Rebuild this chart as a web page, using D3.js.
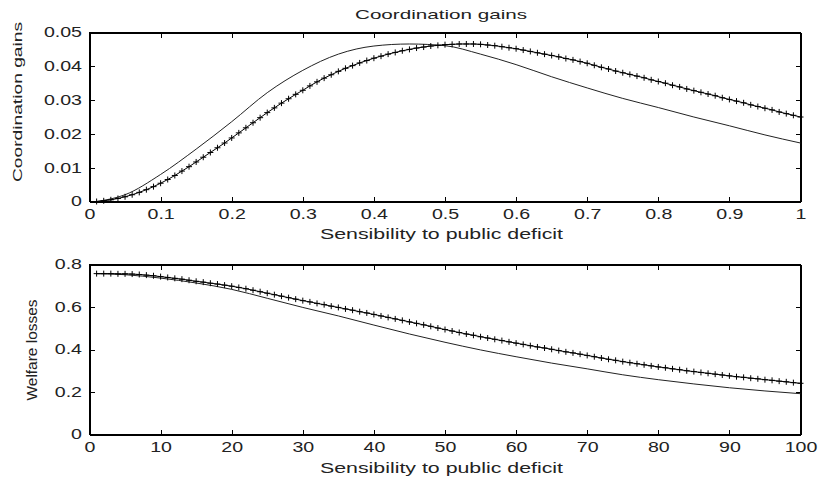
<!DOCTYPE html>
<html lang="en">
<head>
<meta charset="utf-8">
<title>Coordination gains</title>
<script src="https://cdn.jsdelivr.net/npm/d3@7/dist/d3.min.js"></script>
<style>
body { margin: 0; background: #fff; }
text { font-family: "Liberation Sans", Arial, sans-serif; fill: #222; }
.axis path, .axis line { stroke: #000; shape-rendering: crispEdges; }
</style>
</head>
<body>
<script>
// sampling grid of the "+" series (abscissa only)
var gainGrid = d3.range(1, 101).map(function(i) { return i / 100; });
var lossGrid = d3.range(1, 101);

// top panel, "+" series (one value per grid point)
var gainPlus = [
  0.0000, 0.0002, 0.0005, 0.0009, 0.0014, 0.0020, 0.0027, 0.0035, 0.0044, 0.0054,
  0.0065, 0.0077, 0.0090, 0.0103, 0.0117, 0.0131, 0.0145, 0.0159, 0.0173, 0.0188,
  0.0203, 0.0218, 0.0233, 0.0248, 0.0263, 0.0277, 0.0291, 0.0304, 0.0317, 0.0329,
  0.0342, 0.0354, 0.0365, 0.0375, 0.0385, 0.0394, 0.0402, 0.0410, 0.0417, 0.0424,
  0.0430, 0.0436, 0.0441, 0.0446, 0.0450, 0.0454, 0.0457, 0.0460, 0.0462, 0.0464,
  0.0465, 0.0466, 0.0466, 0.0466, 0.0465, 0.0463, 0.0461, 0.0458, 0.0455, 0.0452,
  0.0448, 0.0444, 0.0440, 0.0436, 0.0432, 0.0428, 0.0423, 0.0419, 0.0414, 0.0409,
  0.0403, 0.0397, 0.0392, 0.0386, 0.0381, 0.0376, 0.0371, 0.0366, 0.0360, 0.0355,
  0.0350, 0.0344, 0.0339, 0.0333, 0.0328, 0.0323, 0.0318, 0.0313, 0.0307, 0.0302,
  0.0297, 0.0292, 0.0286, 0.0281, 0.0276, 0.0271, 0.0265, 0.0260, 0.0255, 0.0250
];

// top panel, solid series (read at every 0.05)
var gainSolidX = [0.01, 0.05, 0.10, 0.15, 0.20, 0.25, 0.30, 0.35, 0.40, 0.45, 0.50,
                  0.55, 0.60, 0.65, 0.70, 0.75, 0.80, 0.85, 0.90, 0.95, 1.00];
var gainSolid = [0.0000, 0.0020, 0.0080, 0.0155, 0.0236, 0.0322, 0.0388, 0.0436, 0.0460, 0.0466, 0.0461,
                 0.0436, 0.0405, 0.0369, 0.0336, 0.0305, 0.0278, 0.0250, 0.0224, 0.0197, 0.0173];

// bottom panel, "+" series
var lossPlus = [
  0.757, 0.757, 0.757, 0.756, 0.756, 0.755, 0.753, 0.750, 0.747, 0.743,
  0.739, 0.735, 0.731, 0.726, 0.721, 0.717, 0.712, 0.708, 0.703, 0.698,
  0.692, 0.686, 0.679, 0.672, 0.665, 0.658, 0.651, 0.644, 0.637, 0.630,
  0.624, 0.617, 0.611, 0.604, 0.598, 0.591, 0.585, 0.578, 0.572, 0.565,
  0.558, 0.551, 0.544, 0.537, 0.530, 0.523, 0.516, 0.509, 0.501, 0.494,
  0.487, 0.480, 0.473, 0.467, 0.460, 0.454, 0.448, 0.442, 0.436, 0.430,
  0.424, 0.418, 0.412, 0.407, 0.401, 0.395, 0.389, 0.384, 0.378, 0.372,
  0.366, 0.360, 0.354, 0.349, 0.343, 0.338, 0.333, 0.328, 0.323, 0.318,
  0.314, 0.309, 0.305, 0.300, 0.296, 0.292, 0.288, 0.284, 0.280, 0.276,
  0.272, 0.269, 0.265, 0.262, 0.258, 0.255, 0.251, 0.248, 0.244, 0.241
];

// bottom panel, solid series
var lossSolidX = [1, 5, 10, 15, 20, 25, 30, 35, 40, 45, 50, 55, 60, 65, 70, 75, 80, 85, 90, 95, 100];
var lossSolid = [0.757, 0.752, 0.736, 0.713, 0.683, 0.641, 0.598, 0.558, 0.515, 0.473, 0.434,
                 0.398, 0.366, 0.336, 0.309, 0.281, 0.258, 0.238, 0.220, 0.205, 0.192];

var gainXTicks = [0, 0.1, 0.2, 0.3, 0.4, 0.5, 0.6, 0.7, 0.8, 0.9, 1];
var gainYTicks = [0, 0.01, 0.02, 0.03, 0.04, 0.05];
var lossXTicks = [0, 10, 20, 30, 40, 50, 60, 70, 80, 90, 100];
var lossYTicks = [0, 0.2, 0.4, 0.6, 0.8];

var w = 818, h = 479;
var sx = 1.4;   // the reference text is stretched horizontally

var svg = d3.select("body").append("svg")
    .attr("width", w)
    .attr("height", h);

function panel(p) {
  var x = d3.scaleLinear().domain(p.xDomain).range([89.5, 800.5]);
  var y = d3.scaleLinear().domain(p.yDomain).range([p.bottom, p.top]);
  var g = svg.append("g");

  g.append("g").attr("class", "axis")
    .attr("transform", "translate(0," + p.bottom + ")")
    .call(d3.axisBottom(x).tickValues(p.xTicks).tickSize(-5).tickSizeOuter(0).tickPadding(8)
      .tickFormat(d3.format("~g")))
    .call(function(a) {
      a.selectAll("text").attr("transform", "scale(" + sx + ",1)")
        .style("font-size", "14px").attr("fill", "#222");
    });
  g.append("g").attr("class", "axis")
    .attr("transform", "translate(0," + p.top + ")")
    .call(d3.axisTop(x).tickValues(p.xTicks).tickSize(-5).tickSizeOuter(0).tickFormat(""));
  g.append("g").attr("class", "axis")
    .attr("transform", "translate(89.5,0)")
    .call(d3.axisLeft(y).tickValues(p.yTicks).tickSize(-5).tickSizeOuter(0)
      .tickFormat(d3.format("~g")))
    .call(function(a) {
      a.selectAll("text").attr("x", -7.5 / sx).attr("transform", "scale(" + sx + ",1)")
        .style("font-size", "14px").attr("fill", "#222");
    });
  g.append("g").attr("class", "axis")
    .attr("transform", "translate(800.5,0)")
    .call(d3.axisRight(y).tickValues(p.yTicks).tickSize(-5).tickSizeOuter(0).tickFormat(""));

  g.append("rect")
    .attr("x", 89.5).attr("y", p.top)
    .attr("width", 711).attr("height", p.bottom - p.top)
    .attr("fill", "none").attr("stroke", "#000")
    .style("shape-rendering", "crispEdges");

  var line = d3.line().x(function(d) { return x(d[0]); }).y(function(d) { return y(d[1]); });

  g.append("path")
    .datum(d3.zip(p.solidX, p.solid))
    .attr("fill", "none").attr("stroke", "#222").attr("stroke-width", 1)
    .attr("d", line.curve(d3.curveMonotoneX));

  var plus = d3.zip(p.grid, p.plus);
  g.append("path")
    .datum(plus)
    .attr("fill", "none").attr("stroke", "#000").attr("stroke-width", 1)
    .attr("d", line.curve(d3.curveLinear));

  g.selectAll(".mk")
    .data(plus)
    .enter().append("path")
    .attr("class", "mk")
    .attr("transform", function(d) { return "translate(" + x(d[0]) + "," + y(d[1]) + ")"; })
    .attr("d", "M-3,0H3M0,-3V3")
    .attr("stroke", "#000").attr("stroke-width", 1);

  g.append("text")
    .attr("x", 441.5).attr("y", p.xLabelY)
    .attr("text-anchor", "middle")
    .attr("textLength", 243).attr("lengthAdjust", "spacingAndGlyphs")
    .style("font-size", "14px")
    .text("Sensibility to public deficit");

  g.append("text")
    .attr("transform", "translate(" + p.yLabelX + "," + p.yLabelY + ") rotate(-90)")
    .attr("text-anchor", "middle")
    .attr("textLength", p.yLabelLen).attr("lengthAdjust", "spacingAndGlyphs")
    .style("font-size", p.yLabelSize)
    .text(p.yLabel);
}

panel({
  xDomain: [0, 1], yDomain: [0, 0.05], top: 32.5, bottom: 201.5,
  xTicks: gainXTicks, yTicks: gainYTicks,
  grid: gainGrid, plus: gainPlus, solidX: gainSolidX, solid: gainSolid,
  xLabelY: 239, yLabel: "Coordination gains", yLabelX: 22, yLabelY: 102,
  yLabelLen: 160, yLabelSize: "13px"
});

panel({
  xDomain: [0, 100], yDomain: [0, 0.8], top: 264.5, bottom: 434.5,
  xTicks: lossXTicks, yTicks: lossYTicks,
  grid: lossGrid, plus: lossPlus, solidX: lossSolidX, solid: lossSolid,
  xLabelY: 473, yLabel: "Welfare losses", yLabelX: 37, yLabelY: 350,
  yLabelLen: 101, yLabelSize: "14px"
});

svg.append("text")
  .attr("x", 441).attr("y", 19)
  .attr("text-anchor", "middle")
  .attr("textLength", 172).attr("lengthAdjust", "spacingAndGlyphs")
  .style("font-size", "13px")
  .text("Coordination gains");
</script>
</body>
</html>
